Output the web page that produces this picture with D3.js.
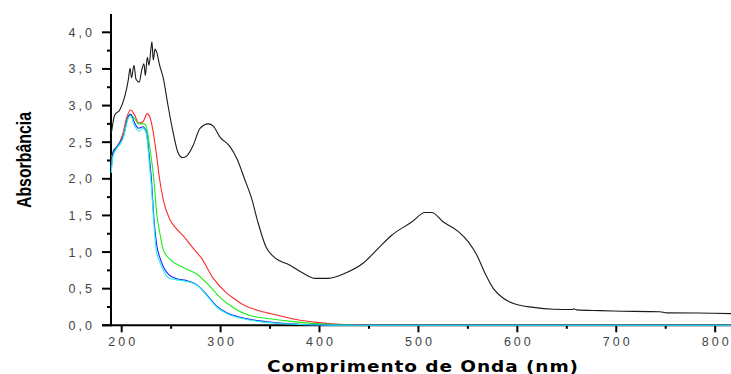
<!DOCTYPE html>
<html>
<head>
<meta charset="utf-8">
<script src="https://cdn.jsdelivr.net/npm/d3@7"></script>
<style>
  html, body { margin: 0; padding: 0; background: #fff; }
  svg { display: block; }
</style>
</head>
<body>
<svg id="chart" width="731" height="374"></svg>
<script>
// UV-Vis absorption spectra: [wavelength (nm), absorbance]
const spectrumBlack = [
  [189.5, 2.62], [193, 2.87], [198, 2.94], [203, 3.12], [206.7, 3.35], [208.4, 3.51],
  [210, 3.38], [212.4, 3.55], [214.5, 3.36], [217.8, 3.32], [220.2, 3.48], [222.5, 3.57],
  [223.9, 3.41], [225.9, 3.66], [227.6, 3.55], [229.6, 3.78], [230.6, 3.87], [231.9, 3.62],
  [233.7, 3.77], [235.4, 3.73], [238, 3.57], [242.1, 3.37], [247.1, 2.98], [252.2, 2.62],
  [257.2, 2.35], [261.7, 2.29], [265.7, 2.31], [272.4, 2.46], [279.2, 2.69], [287.6, 2.75],
  [292.6, 2.72], [299.4, 2.57], [309.5, 2.44], [316.3, 2.28], [324.7, 1.98], [331.4, 1.73],
  [338.1, 1.39], [345.9, 1.07], [353.3, 0.94], [370.2, 0.82], [383.6, 0.71], [395.5, 0.64],
  [408.9, 0.64], [427.5, 0.72], [444.3, 0.85], [457.8, 1.03], [473, 1.23], [493.2, 1.41],
  [506.7, 1.54], [513.5, 1.54], [525.2, 1.41], [540.4, 1.28], [550.5, 1.14], [559, 0.96],
  [567.3, 0.71], [575.8, 0.50], [585.8, 0.37], [597.7, 0.29], [616.2, 0.245], [636.4, 0.22],
  [656, 0.215], [657, 0.225], [660, 0.21], [683.6, 0.20], [697, 0.195], [744, 0.185],
  [751, 0.17], [798, 0.165], [816, 0.16]
];
const spectrumRed = [
  [189.5, 2.30], [193, 2.39], [198, 2.50], [201.3, 2.62], [204.7, 2.82], [209.1, 2.94],
  [213.1, 2.87], [217.2, 2.76], [221.5, 2.78], [225.9, 2.89], [228.3, 2.85], [231.6, 2.66],
  [235, 2.35], [238.5, 1.98], [242.1, 1.71], [248.8, 1.44], [254, 1.34], [262.3, 1.22],
  [272.4, 1.05], [280.5, 0.92], [292.6, 0.64], [306.2, 0.44], [313, 0.37], [323, 0.28],
  [340, 0.195], [356.7, 0.14], [378, 0.075], [397.1, 0.04], [420.7, 0.015], [447.7, 0.008],
  [460, 0], [816, 0]
];
const spectrumGreen = [
  [189.5, 2.15], [191, 2.37], [199.6, 2.50], [208, 2.88], [213.1, 2.82], [217.2, 2.75],
  [222.5, 2.75], [224.9, 2.71], [228.3, 2.44], [232.6, 1.98], [235.4, 1.53], [238.7, 1.25],
  [242.1, 1.03], [248.8, 0.90], [262.3, 0.79], [275.8, 0.70], [289.3, 0.53], [299.4, 0.38],
  [312.9, 0.24], [328, 0.14], [349.9, 0.09], [373.5, 0.05], [400, 0.02], [430, 0.005],
  [450, 0], [816, 0]
];
const spectrumBlue = [
  [189.5, 2.12], [191, 2.35], [196.3, 2.46], [201.3, 2.57], [207.1, 2.86], [209, 2.88],
  [213.1, 2.76], [217.2, 2.69], [221.5, 2.71], [224.9, 2.64], [228.3, 2.25], [230.3, 1.95],
  [232, 1.57], [235.4, 1.10], [238.7, 0.92], [242.1, 0.80], [247.1, 0.70], [255.6, 0.635],
  [265.7, 0.61], [275.8, 0.555], [285.9, 0.42], [296.1, 0.26], [306.2, 0.17], [323, 0.10],
  [339.8, 0.06], [360, 0.03], [380, 0.015], [410, 0.003], [440, 0], [816, 0]
];
const spectrumCyan = [
  [189.5, 2.08], [191, 2.30], [196.3, 2.44], [201.3, 2.55], [207.1, 2.84], [209, 2.86],
  [213.1, 2.72], [217.8, 2.65], [221.5, 2.69], [224.9, 2.62], [228, 2.20], [230, 1.90],
  [232, 1.50], [235, 1.02], [238.7, 0.86], [242.1, 0.75], [247.1, 0.65], [255.6, 0.62],
  [265.7, 0.60], [275.8, 0.55], [285.9, 0.41], [296.1, 0.25], [306.2, 0.16], [323, 0.09],
  [339.8, 0.05], [360, 0.025], [380, 0.01], [410, 0.002], [440, 0], [816, 0]
];

const xMajorTicks = [200, 300, 400, 500, 600, 700, 800];
const xMinorTicks = [250, 350, 450, 550, 650, 750];
const yMajorTicks = [0, 0.5, 1.0, 1.5, 2.0, 2.5, 3.0, 3.5, 4.0];
const yMinorTicks = [0.25, 0.75, 1.25, 1.75, 2.25, 2.75, 3.25, 3.75];

const xTitle = "Comprimento de Onda (nm)";
const yTitle = "Absorbância";

const series = [
  { data: spectrumBlack, color: "#1a1a1a" },
  { data: spectrumRed,   color: "#ff2a2a" },
  { data: spectrumGreen, color: "#1aee1a" },
  { data: spectrumBlue,  color: "#2020ff" },
  { data: spectrumCyan,  color: "#22f0f0" }
];

const svg = d3.select("#chart");

const x = d3.scaleLinear().domain([189.2, 816]).range([111, 731]);
const y = d3.scaleLinear().domain([0, 4.25]).range([325.3, 14]);

const fmtY = v => d3.format(".1f")(v).replace(".", ",");

// x axis
const gx = svg.append("g").attr("transform", `translate(0,${y(0)})`);
gx.append("line")
  .attr("x1", x.range()[0] - 9).attr("x2", x.range()[1])
  .attr("stroke", "#000").attr("stroke-width", 2);
gx.selectAll(".xmaj").data(xMajorTicks).join("line")
  .attr("x1", d => x(d)).attr("x2", d => x(d))
  .attr("y1", 0).attr("y2", 7)
  .attr("stroke", "#000").attr("stroke-width", 2);
gx.selectAll(".xmin").data(xMinorTicks).join("line")
  .attr("x1", d => x(d)).attr("x2", d => x(d))
  .attr("y1", 0).attr("y2", 3.5)
  .attr("stroke", "#000").attr("stroke-width", 2);
gx.selectAll(".xlab").data(xMajorTicks).join("text")
  .attr("x", d => x(d) + 1.5).attr("y", 20.5)
  .attr("text-anchor", "middle")
  .attr("font-family", "'Liberation Sans', Arial, sans-serif")
  .attr("font-size", 12.5).attr("letter-spacing", 3)
  .attr("fill", "#444")
  .text(d => d);

// y axis
const gy = svg.append("g").attr("transform", `translate(${x.range()[0]},0)`);
gy.append("line")
  .attr("y1", y.range()[1]).attr("y2", y(0) + 1)
  .attr("stroke", "#000").attr("stroke-width", 2);
gy.selectAll(".ymaj").data(yMajorTicks).join("line")
  .attr("y1", d => y(d)).attr("y2", d => y(d))
  .attr("x1", 0).attr("x2", -9)
  .attr("stroke", "#000").attr("stroke-width", 2);
gy.selectAll(".ymin").data(yMinorTicks).join("line")
  .attr("y1", d => y(d)).attr("y2", d => y(d))
  .attr("x1", 0).attr("x2", -4)
  .attr("stroke", "#000").attr("stroke-width", 2);
gy.selectAll(".ylab").data(yMajorTicks).join("text")
  .attr("x", -16).attr("y", d => y(d) + 4.5)
  .attr("text-anchor", "end")
  .attr("font-family", "'Liberation Sans', Arial, sans-serif")
  .attr("font-size", 12.5).attr("letter-spacing", 3)
  .attr("fill", "#444")
  .text(d => fmtY(d));

// spectra
const line = d3.line().x(d => x(d[0])).y(d => y(d[1])).curve(d3.curveMonotoneX);
svg.append("g").selectAll("path").data(series).join("path")
  .attr("d", d => line(d.data))
  .attr("fill", "none")
  .attr("stroke", d => d.color)
  .attr("stroke-width", 1.1)
  .attr("stroke-linejoin", "round");

// axis titles
svg.append("text")
  .attr("x", 423).attr("y", 371.5)
  .attr("text-anchor", "middle")
  .attr("font-family", "'DejaVu Sans', Verdana, sans-serif")
  .attr("font-weight", "bold").attr("font-size", 16)
  .attr("letter-spacing", 0.8)
  .attr("textLength", 312).attr("lengthAdjust", "spacingAndGlyphs")
  .attr("fill", "#000")
  .text(xTitle);

svg.append("text")
  .attr("transform", "translate(31,160) rotate(-90)")
  .attr("text-anchor", "middle")
  .attr("font-family", "'Liberation Sans Narrow', 'Liberation Sans', Arial, sans-serif")
  .attr("font-weight", "bold").attr("font-size", 20)
  .attr("textLength", 96).attr("lengthAdjust", "spacingAndGlyphs")
  .attr("fill", "#000")
  .text(yTitle);
</script>
</body>
</html>
